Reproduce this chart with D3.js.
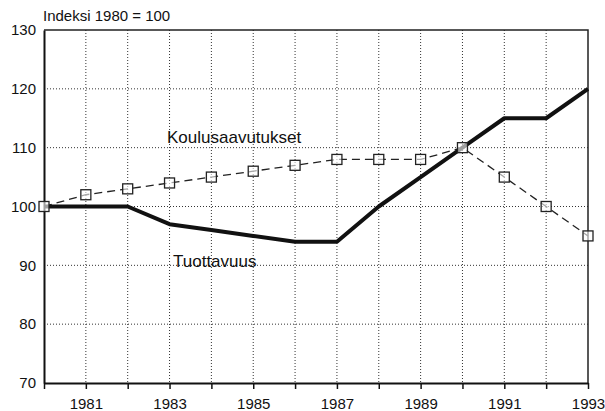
<!DOCTYPE html>
<html>
<head>
<meta charset="utf-8">
<script src="https://cdn.jsdelivr.net/npm/d3@7"></script>
<style>
	body { margin: 0; background: #fff; }
	svg { display: block; font-family: "Liberation Sans", Arial, sans-serif; }
</style>
</head>
<body>
<svg id="chart" width="605" height="411"></svg>
<script>
var years = [1980, 1981, 1982, 1983, 1984, 1985, 1986, 1987, 1988, 1989, 1990, 1991, 1992, 1993];
var tuottavuus = [100, 100, 100, 97, 96, 95, 94, 94, 100, 105, 110, 115, 115, 120];
var koulusaavutukset = [100, 102, 103, 104, 105, 106, 107, 108, 108, 108, 110, 105, 100, 95];
var yTicks = [70, 80, 90, 100, 110, 120, 130];
var xLabels = [1981, 1983, 1985, 1987, 1989, 1991, 1993];
var title = "Indeksi 1980 = 100";

var _margin = {top: 30, right: 17, bottom: 28, left: 44},
	_width = 605 - _margin.left - _margin.right,
	_height = 411 - _margin.top - _margin.bottom;

var _svg = d3.select("#chart");
var _container = _svg.append("g")
	.attr("transform", "translate(" + _margin.left + "," + _margin.top + ")");

var _x = d3.scaleLinear().domain([1980, 1993]).range([0, _width]);
var _y = d3.scaleLinear().domain([70, 130]).range([_height, 0]);

// dotted grid
_container.append("g").selectAll("line")
	.data(years.slice(1, -1))
	.enter().append("line")
	.attr("x1", function(d) { return _x(d); })
	.attr("x2", function(d) { return _x(d); })
	.attr("y1", 0).attr("y2", _height)
	.style("stroke", "#333").style("stroke-width", 1).style("stroke-dasharray", "1,2");
_container.append("g").selectAll("line")
	.data(yTicks.slice(1, -1))
	.enter().append("line")
	.attr("x1", 0).attr("x2", _width)
	.attr("y1", function(d) { return _y(d); })
	.attr("y2", function(d) { return _y(d); })
	.style("stroke", "#333").style("stroke-width", 1).style("stroke-dasharray", "1,2");

// frame (top, right)
_container.append("path")
	.attr("d", "M0,0H" + _width + "V" + _height)
	.style("fill", "none").style("stroke", "#222").style("stroke-width", 1.5);

// x axis
var _xAxis = _container.append("g")
	.attr("transform", "translate(0," + _height + ")")
	.call(d3.axisBottom(_x).tickValues(years).tickSizeInner(6).tickSizeOuter(0)
		.tickFormat(function(d) { return xLabels.indexOf(d) >= 0 ? d : ""; }));
_xAxis.select(".domain").style("stroke", "#111").style("stroke-width", 2);
_xAxis.selectAll(".tick line").style("stroke", "#111").style("stroke-width", 1.5);
_xAxis.selectAll(".tick text").attr("y", 15).style("font-size", "15px").style("fill", "#111")
	.style("font-family", "Liberation Sans, Arial, sans-serif");

// y axis
var _yAxis = _container.append("g")
	.call(d3.axisLeft(_y).tickValues(yTicks).tickSizeInner(0).tickSizeOuter(0).tickPadding(8));
_yAxis.select(".domain").style("stroke", "#111").style("stroke-width", 2);
_yAxis.selectAll(".tick text").style("font-size", "15px").style("fill", "#111")
	.style("font-family", "Liberation Sans, Arial, sans-serif");

var _line = d3.line()
	.x(function(d, i) { return _x(years[i]); })
	.y(function(d) { return _y(d); });

// Koulusaavutukset
_container.append("path")
	.datum(koulusaavutukset)
	.attr("d", _line)
	.style("fill", "none").style("stroke", "#222").style("stroke-width", 1.3)
	.style("stroke-dasharray", "8,5");

// Tuottavuus
_container.append("path")
	.datum(tuottavuus)
	.attr("d", _line)
	.style("fill", "none").style("stroke", "#111").style("stroke-width", 4)
	.style("stroke-linejoin", "round");

_container.append("g").selectAll("rect")
	.data(koulusaavutukset)
	.enter().append("rect")
	.attr("x", function(d, i) { return _x(years[i]) - 5; })
	.attr("y", function(d) { return _y(d) - 5; })
	.attr("width", 10).attr("height", 10)
	.style("fill", "#fff").style("fill-opacity", 0.6).style("stroke", "#222").style("stroke-width", 1.3);

// labels
_svg.append("text")
	.attr("x", 43).attr("y", 21)
	.style("font-size", "15px").style("fill", "#111")
	.text(title);
_svg.append("text")
	.attr("x", 167).attr("y", 143)
	.style("font-size", "17px").style("fill", "#111")
	.text("Koulusaavutukset");
_svg.append("text")
	.attr("x", 173).attr("y", 267)
	.style("font-size", "17px").style("fill", "#111")
	.text("Tuottavuus");
</script>
</body>
</html>
